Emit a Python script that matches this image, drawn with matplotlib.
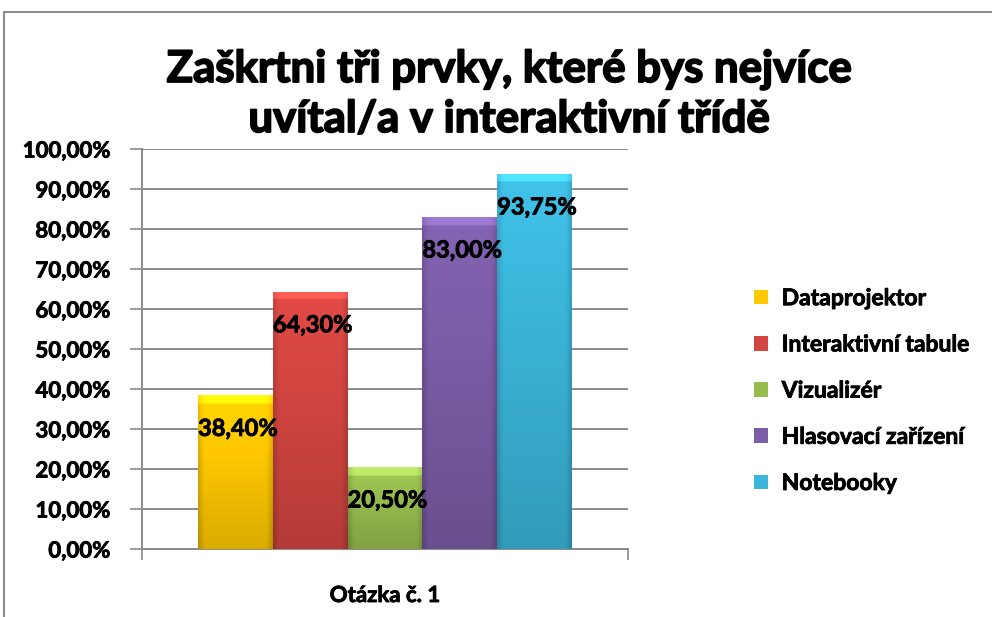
import matplotlib
matplotlib.use('Agg')
import matplotlib.pyplot as plt
import matplotlib.patheffects as pe
from matplotlib.patches import Patch
from matplotlib.lines import Line2D
import numpy as np

# data
categories = ['Dataprojektor', 'Interaktivní tabule', 'Vizualizér',
              'Hlasovací zařízení', 'Notebooky']
values = [38.40, 64.30, 20.50, 83.00, 93.75]
colors = ['#FFC800', '#D24541', '#96BC4E', '#7B5CA6', '#3BB5D9']
yticks = [0, 10, 20, 30, 40, 50, 60, 70, 80, 90, 100]
title_lines = ['Zaškrtni tři prvky, které bys nejvíce', 'uvítal/a v interaktivní třídě']
xlabel = 'Otázka č. 1'

W, H = 992, 617
plt.rcParams['font.family'] = ['Lato', 'DejaVu Sans']
plt.rcParams['font.weight'] = 'bold'

fig = plt.figure(figsize=(W / 100, H / 100), dpi=100)
fig.patch.set_facecolor('white')


def fx(px):
    return px / W


def fy(py):
    return 1 - py / H


heavy = [pe.withStroke(linewidth=0.6, foreground='black')]
heavier = [pe.withStroke(linewidth=1.3, foreground='black')]

# chart border (top and left visible)
grey = '#8c8c8c'
fig.add_artist(Line2D([fx(4), 1], [fy(12), fy(12)], color=grey, lw=1.5))
fig.add_artist(Line2D([fx(4), fx(4)], [fy(12), 0], color=grey, lw=1.5))

ax = fig.add_axes([fx(142), fy(549), fx(628) - fx(142), fy(149) - fy(549)])
ax.set_xlim(-0.5, 0.5)
ax.set_ylim(0, 100)

w = 1 / 6.5
xs = [(i - 2) * w for i in range(len(values))]


def shade(hex_color, nx=60, ny=200):
    base = np.array(matplotlib.colors.to_rgb(hex_color))
    yy = np.linspace(0, 1, ny)[:, None]      # 0 top, 1 bottom
    xx = np.linspace(0, 1, nx)[None, :]
    f = 1.08 - 0.22 * yy
    edge = np.minimum(xx, 1 - xx)
    f = f - 0.14 * np.clip(1 - edge / 0.08, 0, 1)
    img = base[None, None, :] * f[:, :, None]
    return np.clip(img, 0, 1)


for x, v, c in zip(xs, values, colors):
    bar = ax.bar(x, v, width=w, color=c, zorder=3, linewidth=0)[0]
    img = shade(c)
    # lighter bevel strip on top
    top_units = 9 / 4.0
    frac = min(top_units / v, 0.5)
    n_top = max(int(img.shape[0] * frac), 1)
    img[:n_top] = np.clip(img[:n_top] * 1.12 + 0.04, 0, 1)
    im = ax.imshow(img, extent=(x - w / 2, x + w / 2, 0, v), aspect='auto',
                   zorder=4, interpolation='bilinear')
    im.set_clip_path(bar)
    label = f'{v:.2f}%'.replace('.', ',')
    ax.annotate(label, xy=(x - w / 2, v), xytext=(0, -33), textcoords='offset pixels',
                ha='left', va='center', fontsize=17, fontweight='bold',
                color='black', zorder=6, path_effects=heavy)

ax.set_yticks(yticks)
ax.set_yticklabels([f'{t:.2f}%'.replace('.', ',') for t in yticks],
                   fontsize=16, fontweight='bold')
for t in ax.get_yticklabels():
    t.set_path_effects(heavy)
ax.yaxis.grid(True, color='#8a8a8a', linewidth=1.4, zorder=0)
ax.set_axisbelow(True)
ax.set_xticks([-0.5, 0.5])
ax.set_xticklabels([])
ax.tick_params(axis='y', length=9, width=1.2, color='#8a8a8a', pad=14)
ax.tick_params(axis='x', length=8, width=1.2, color='#8a8a8a')
for s in ['top', 'right']:
    ax.spines[s].set_visible(False)
for s in ['left', 'bottom']:
    ax.spines[s].set_color('#8a8a8a')
    ax.spines[s].set_linewidth(1.4)

fig.text(fx(385), fy(602), xlabel, ha='center', va='baseline', fontsize=16,
         fontweight='bold', path_effects=heavy)

fig.text(fx(509), fy(82), title_lines[0], ha='center', va='baseline',
         fontsize=31.5, fontweight='bold', path_effects=heavier)
fig.text(fx(509), fy(132), title_lines[1], ha='center', va='baseline',
         fontsize=31.5, fontweight='bold', path_effects=heavier)

handles = [Patch(facecolor=c, edgecolor='none') for c in colors]
leg = fig.legend(handles, categories, loc='upper left',
                 bbox_to_anchor=(fx(745), fy(279)), frameon=False,
                 prop={'size': 16.5, 'weight': 'bold'},
                 handlelength=0.6, handleheight=0.6, handletextpad=0.6,
                 labelspacing=1.1, borderaxespad=0)
for t in leg.get_texts():
    t.set_path_effects(heavy)

fig.savefig('out.png', dpi=100)
